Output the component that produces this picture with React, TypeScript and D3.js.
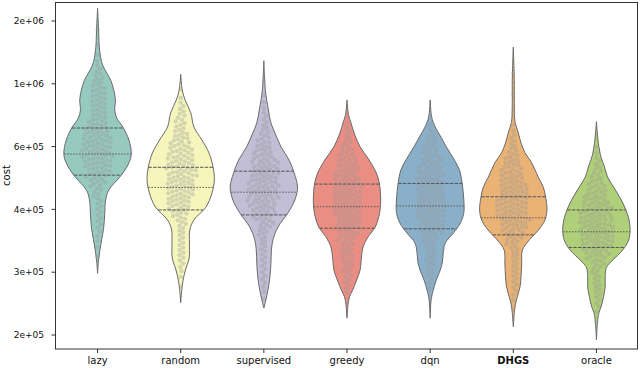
import React from 'react';
import * as d3 from 'd3';

const categories = ["lazy", "random", "supervised", "greedy", "dqn", "DHGS", "oracle"];
const palette = ["#8dd3c7", "#ffffb3", "#bebada", "#fb8072", "#80b1d3", "#fdb462", "#b3de69"];

const yTickValues = [2e5, 3e5, 4e5, 6e5, 1e6, 2e6];
const yTickLabels = ["2e+05", "3e+05", "4e+05", "6e+05", "1e+06", "2e+06"];

// violin outlines: cost levels and relative half-width (density, max = 1)
const lazyCost = [2.30e6, 1.81e6, 1.45e6, 1.23e6, 1.04e6, 9.51e5, 8.77e5, 8.08e5, 7.57e5, 7.04e5, 6.33e5, 5.68e5, 5.26e5, 4.93e5, 4.53e5, 4.25e5, 3.90e5, 3.67e5, 3.48e5, 3.32e5, 3.14e5, 2.98e5];
const lazyDensity = [0, 0.03, 0.06, 0.15, 0.39, 0.48, 0.53, 0.51, 0.57, 0.75, 0.93, 1, 0.87, 0.66, 0.33, 0.24, 0.21, 0.18, 0.12, 0.07, 0.024, 0];

const randomCost = [1.11e6, 9.51e5, 8.77e5, 7.89e5, 7.04e5, 6.33e5, 5.76e5, 5.26e5, 4.84e5, 4.45e5, 4.06e5, 3.81e5, 3.64e5, 3.43e5, 3.20e5, 3.03e5, 2.85e5, 2.67e5, 2.46e5];
const randomDensity = [0, 0.045, 0.13, 0.30, 0.39, 0.63, 0.84, 0.96, 1, 0.93, 0.75, 0.39, 0.27, 0.26, 0.25, 0.14, 0.07, 0.03, 0];

const supervisedCost = [1.29e6, 9.51e5, 8.08e5, 7.27e5, 6.70e5, 5.99e5, 5.50e5, 5.06e5, 4.62e5, 4.25e5, 3.94e5, 3.69e5, 3.48e5, 3.32e5, 3.13e5, 2.91e5, 2.67e5, 2.51e5, 2.38e5];
const supervisedDensity = [0, 0.045, 0.135, 0.21, 0.33, 0.51, 0.75, 0.9, 1, 0.92, 0.72, 0.42, 0.27, 0.225, 0.21, 0.18, 0.12, 0.06, 0];

const greedyCost = [8.77e5, 7.76e5, 7.27e5, 6.70e5, 5.99e5, 5.50e5, 5.06e5, 4.74e5, 4.25e5, 3.94e5, 3.69e5, 3.53e5, 3.37e5, 3.17e5, 3.03e5, 2.85e5, 2.67e5, 2.56e5, 2.43e5, 2.23e5];
const greedyDensity = [0, 0.045, 0.12, 0.21, 0.39, 0.66, 0.87, 0.96, 1, 0.97, 0.84, 0.63, 0.48, 0.42, 0.39, 0.285, 0.165, 0.075, 0.03, 0];

const dqnCost = [8.77e5, 7.63e5, 7.04e5, 6.49e5, 5.99e5, 5.50e5, 5.16e5, 4.74e5, 4.25e5, 3.94e5, 3.76e5, 3.59e5, 3.43e5, 3.28e5, 3.13e5, 3.03e5, 2.85e5, 2.67e5, 2.51e5, 2.23e5];
const dqnDensity = [0, 0.045, 0.15, 0.32, 0.48, 0.72, 0.87, 0.95, 1, 1, 0.9, 0.69, 0.45, 0.39, 0.36, 0.3, 0.18, 0.09, 0.03, 0];

const dhgsCost = [1.50e6, 1.04e6, 8.77e5, 7.45e5, 7.15e5, 6.70e5, 6.18e5, 5.76e5, 5.42e5, 4.93e5, 4.62e5, 4.33e5, 3.99e5, 3.81e5, 3.64e5, 3.48e5, 3.32e5, 3.13e5, 2.91e5, 2.73e5, 2.56e5, 2.43e5, 2.31e5, 2.11e5];
const dhgsDensity = [0, 0.03, 0.03, 0.045, 0.075, 0.15, 0.23, 0.35, 0.54, 0.74, 0.89, 0.96, 1, 0.94, 0.75, 0.48, 0.27, 0.25, 0.23, 0.2, 0.12, 0.06, 0.03, 0];

const oracleCost = [7.35e5, 6.33e5, 5.87e5, 5.61e5, 5.26e5, 4.93e5, 4.62e5, 4.33e5, 4.06e5, 3.81e5, 3.64e5, 3.48e5, 3.32e5, 3.17e5, 3.07e5, 2.91e5, 2.73e5, 2.56e5, 2.40e5, 2.31e5, 2.20e5, 1.94e5];
const oracleDensity = [0, 0.045, 0.09, 0.135, 0.24, 0.33, 0.51, 0.69, 0.84, 0.97, 1, 0.96, 0.78, 0.48, 0.3, 0.26, 0.26, 0.21, 0.14, 0.075, 0.036, 0];

// quartiles [Q1, median, Q3]
const lazyQuartiles = [4.99e5, 5.72e5, 6.98e5];
const randomQuartiles = [3.99e5, 4.61e5, 5.25e5];
const supervisedQuartiles = [3.90e5, 4.47e5, 5.12e5];
const greedyQuartiles = [3.67e5, 4.07e5, 4.71e5];
const dqnQuartiles = [3.66e5, 4.09e5, 4.73e5];
const dhgsQuartiles = [3.56e5, 3.85e5, 4.34e5];
const oracleQuartiles = [3.36e5, 3.61e5, 3.99e5];

const costs = [lazyCost, randomCost, supervisedCost, greedyCost, dqnCost, dhgsCost, oracleCost];
const densities = [lazyDensity, randomDensity, supervisedDensity, greedyDensity, dqnDensity, dhgsDensity, oracleDensity];
const quartiles = [lazyQuartiles, randomQuartiles, supervisedQuartiles, greedyQuartiles, dqnQuartiles, dhgsQuartiles, oracleQuartiles];

const W = 640, H = 368;
const left = 56, right = 638, top = 2.5, bottom = 349;
const FONT = "'DejaVu Sans', sans-serif";
const GRAY = "#6a6a6a";
const DOT_R = 2.2;
const N_DOTS = 150;

const x = d3.scaleBand<string>().domain(categories).range([left, right]).padding(0);
const y = d3.scaleLog().domain(yTickValues).range(yTickValues.map((_, i) => 335 - i * 62.8));
const halfMax = x.bandwidth() * 0.405;

function widthAt(py: number, pys: number[], ws: number[]) {
  for (let i = 0; i < pys.length - 1; i++) {
    const a = pys[i], b = pys[i + 1];
    if ((py >= a && py <= b) || (py <= a && py >= b)) {
      const t = b === a ? 0 : (py - a) / (b - a);
      return ws[i] + t * (ws[i + 1] - ws[i]);
    }
  }
  return 0;
}

function swarm(cost: number[], dens: number[], cx: number) {
  const pys = cost.map(c => y(c));
  const ws = dens.map(d => d * halfMax);
  const y0 = Math.min(...pys), y1 = Math.max(...pys);
  const step = 0.25;
  const grid: number[] = [];
  const cum: number[] = [];
  let acc = 0;
  for (let p = y0; p <= y1; p += step) {
    grid.push(p);
    acc += widthAt(p, pys, ws) * step;
    cum.push(acc);
  }
  const vals: number[] = [];
  let j = 0;
  for (let k = 0; k < N_DOTS; k++) {
    const target = ((k + 0.5) / N_DOTS) * acc;
    while (j < cum.length - 1 && cum[j] < target) j++;
    vals.push(grid[j]);
  }
  const placed: { x: number; y: number }[] = [];
  const d2 = 2 * DOT_R;
  for (const py of vals) {
    const near = placed.filter(q => Math.abs(q.y - py) < d2);
    const cands = [0];
    for (const q of near) {
      const dy = q.y - py;
      const dx = Math.sqrt(d2 * d2 - dy * dy);
      cands.push(q.x + dx, q.x - dx);
    }
    cands.sort((a, b) => Math.abs(a) - Math.abs(b));
    let chosen = cands[0];
    for (const c of cands) {
      let ok = true;
      for (const q of near) {
        const dx = q.x - c, dy = q.y - py;
        if (dx * dx + dy * dy < d2 * d2 - 0.01) { ok = false; break; }
      }
      if (ok) { chosen = c; break; }
    }
    placed.push({ x: chosen, y: py });
  }
  return placed.map(p => ({ x: cx + p.x, y: p.y }));
}

export default function App() {
  return (
    <svg width={W} height={H} style={{ position: 'absolute', left: 0, top: 0, background: '#fff' }} fontFamily={FONT}>
      {categories.map((cat, i) => {
        const cx = (x(cat) as number) + x.bandwidth() / 2;
        const cost = costs[i];
        const dens = densities[i];
        const pts = cost.map((c, k) => ({ c, w: dens[k] * halfMax }));
        const area = d3.area<{ c: number; w: number }>()
          .x0(d => cx - d.w)
          .x1(d => cx + d.w)
          .y(d => y(d.c))
          .curve(d3.curveCatmullRom.alpha(0.5));
        const hsl = d3.hsl(palette[i]);
        hsl.s *= 0.75;
        const fill = hsl.formatHex();
        const pys = cost.map(c => y(c));
        const ws = dens.map(d => d * halfMax);
        const dots = swarm(cost, dens, cx);
        return (
          <g key={cat}>
            <path d={area(pts) || ''} fill={fill} stroke={GRAY} strokeWidth={1} />
            {dots.map((d, k) => (
              <circle key={k} cx={d.x} cy={d.y} r={DOT_R} fill="#999" fillOpacity={0.36} />
            ))}
            {quartiles[i].map((q, k) => {
              const py = y(q);
              const w = widthAt(py, pys, ws);
              return (
                <line key={k} x1={cx - w} x2={cx + w} y1={py} y2={py} stroke="#555" strokeWidth={1}
                  strokeDasharray={k === 1 ? "1.5,1.5" : "3.5,1.2"} />
              );
            })}
          </g>
        );
      })}
      {/* frame */}
      <rect x={55.5} y={top} width={637.5 - 55.5} height={bottom - top} fill="none" stroke="#333" strokeWidth={1} />
      {/* y axis ticks */}
      {yTickValues.map((v, i) => (
        <g key={v}>
          <line x1={51.5} x2={55.5} y1={y(v)} y2={y(v)} stroke="#333" strokeWidth={1} />
          <text x={44} y={y(v)} dy="0.35em" textAnchor="end" fontSize={9} fill="#111">{yTickLabels[i]}</text>
        </g>
      ))}
      {/* x axis ticks */}
      {categories.map(cat => {
        const cx = (x(cat) as number) + x.bandwidth() / 2;
        return (
          <g key={cat}>
            <line x1={cx} x2={cx} y1={bottom} y2={bottom + 4} stroke="#333" strokeWidth={1} />
            <text x={cx} y={364} textAnchor="middle" fontSize={10} fill="#111" fontWeight={cat === "DHGS" ? "bold" : "normal"}>{cat}</text>
          </g>
        );
      })}
      <text transform={`translate(9.5,175.5) rotate(-90)`} textAnchor="middle" fontSize={10} fill="#111">cost</text>
    </svg>
  );
}
